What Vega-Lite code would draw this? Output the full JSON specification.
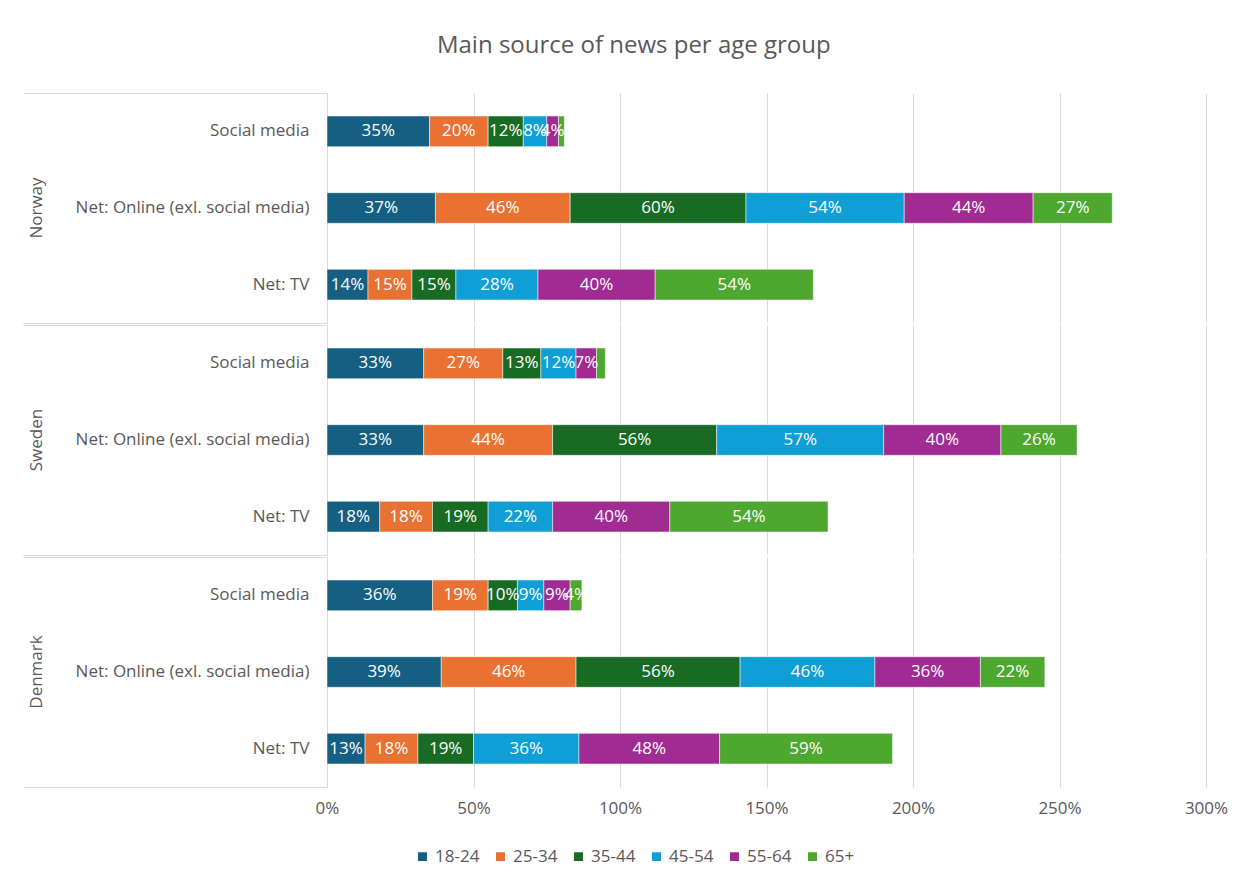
{
 "$schema": "https://vega.github.io/schema/vega-lite/v6.json",
 "background": "white",
 "padding": {"left": 22, "top": 33, "right": 40, "bottom": 10},
 "config": {"font": "Open Sans", "view": {"stroke": null}},
 "title": {"text": "Main source of news per age group", "fontSize": 24, "color": "#595959", "font": "Open Sans", "fontWeight": "normal", "offset": 35, "anchor": "middle", "dx": 9},
 "data": {"values": [
  {"country": "Norway", "source": "Social media", "age": "18-24", "value": 0.35},
  {"country": "Norway", "source": "Social media", "age": "25-34", "value": 0.20},
  {"country": "Norway", "source": "Social media", "age": "35-44", "value": 0.12},
  {"country": "Norway", "source": "Social media", "age": "45-54", "value": 0.08},
  {"country": "Norway", "source": "Social media", "age": "55-64", "value": 0.04},
  {"country": "Norway", "source": "Social media", "age": "65+", "value": 0.02},
  {"country": "Norway", "source": "Net: Online (exl. social media)", "age": "18-24", "value": 0.37},
  {"country": "Norway", "source": "Net: Online (exl. social media)", "age": "25-34", "value": 0.46},
  {"country": "Norway", "source": "Net: Online (exl. social media)", "age": "35-44", "value": 0.60},
  {"country": "Norway", "source": "Net: Online (exl. social media)", "age": "45-54", "value": 0.54},
  {"country": "Norway", "source": "Net: Online (exl. social media)", "age": "55-64", "value": 0.44},
  {"country": "Norway", "source": "Net: Online (exl. social media)", "age": "65+", "value": 0.27},
  {"country": "Norway", "source": "Net: TV", "age": "18-24", "value": 0.14},
  {"country": "Norway", "source": "Net: TV", "age": "25-34", "value": 0.15},
  {"country": "Norway", "source": "Net: TV", "age": "35-44", "value": 0.15},
  {"country": "Norway", "source": "Net: TV", "age": "45-54", "value": 0.28},
  {"country": "Norway", "source": "Net: TV", "age": "55-64", "value": 0.40},
  {"country": "Norway", "source": "Net: TV", "age": "65+", "value": 0.54},
  {"country": "Sweden", "source": "Social media", "age": "18-24", "value": 0.33},
  {"country": "Sweden", "source": "Social media", "age": "25-34", "value": 0.27},
  {"country": "Sweden", "source": "Social media", "age": "35-44", "value": 0.13},
  {"country": "Sweden", "source": "Social media", "age": "45-54", "value": 0.12},
  {"country": "Sweden", "source": "Social media", "age": "55-64", "value": 0.07},
  {"country": "Sweden", "source": "Social media", "age": "65+", "value": 0.03},
  {"country": "Sweden", "source": "Net: Online (exl. social media)", "age": "18-24", "value": 0.33},
  {"country": "Sweden", "source": "Net: Online (exl. social media)", "age": "25-34", "value": 0.44},
  {"country": "Sweden", "source": "Net: Online (exl. social media)", "age": "35-44", "value": 0.56},
  {"country": "Sweden", "source": "Net: Online (exl. social media)", "age": "45-54", "value": 0.57},
  {"country": "Sweden", "source": "Net: Online (exl. social media)", "age": "55-64", "value": 0.40},
  {"country": "Sweden", "source": "Net: Online (exl. social media)", "age": "65+", "value": 0.26},
  {"country": "Sweden", "source": "Net: TV", "age": "18-24", "value": 0.18},
  {"country": "Sweden", "source": "Net: TV", "age": "25-34", "value": 0.18},
  {"country": "Sweden", "source": "Net: TV", "age": "35-44", "value": 0.19},
  {"country": "Sweden", "source": "Net: TV", "age": "45-54", "value": 0.22},
  {"country": "Sweden", "source": "Net: TV", "age": "55-64", "value": 0.40},
  {"country": "Sweden", "source": "Net: TV", "age": "65+", "value": 0.54},
  {"country": "Denmark", "source": "Social media", "age": "18-24", "value": 0.36},
  {"country": "Denmark", "source": "Social media", "age": "25-34", "value": 0.19},
  {"country": "Denmark", "source": "Social media", "age": "35-44", "value": 0.10},
  {"country": "Denmark", "source": "Social media", "age": "45-54", "value": 0.09},
  {"country": "Denmark", "source": "Social media", "age": "55-64", "value": 0.09},
  {"country": "Denmark", "source": "Social media", "age": "65+", "value": 0.04},
  {"country": "Denmark", "source": "Net: Online (exl. social media)", "age": "18-24", "value": 0.39},
  {"country": "Denmark", "source": "Net: Online (exl. social media)", "age": "25-34", "value": 0.46},
  {"country": "Denmark", "source": "Net: Online (exl. social media)", "age": "35-44", "value": 0.56},
  {"country": "Denmark", "source": "Net: Online (exl. social media)", "age": "45-54", "value": 0.46},
  {"country": "Denmark", "source": "Net: Online (exl. social media)", "age": "55-64", "value": 0.36},
  {"country": "Denmark", "source": "Net: Online (exl. social media)", "age": "65+", "value": 0.22},
  {"country": "Denmark", "source": "Net: TV", "age": "18-24", "value": 0.13},
  {"country": "Denmark", "source": "Net: TV", "age": "25-34", "value": 0.18},
  {"country": "Denmark", "source": "Net: TV", "age": "35-44", "value": 0.19},
  {"country": "Denmark", "source": "Net: TV", "age": "45-54", "value": 0.36},
  {"country": "Denmark", "source": "Net: TV", "age": "55-64", "value": 0.48},
  {"country": "Denmark", "source": "Net: TV", "age": "65+", "value": 0.59}
 ]},
 "facet": {"row": {"field": "country", "type": "nominal", "sort": ["Norway", "Sweden", "Denmark"],
   "header": {"title": null, "labelAngle": -90, "labelOrient": "left", "labelFontSize": 17, "labelColor": "#595959", "labelFont": "Open Sans", "labelPadding": -32}}},
 "spacing": 0,
 "resolve": {"scale": {"y": "independent"}},
 "spec": {
  "width": 879, "height": 230,
  "transform": [
   {"stack": "value", "groupby": ["country", "source"], "sort": [{"field": "age", "order": "ascending"}], "as": ["x0", "x1"]},
   {"calculate": "(datum.x0 + datum.x1) / 2", "as": "xmid"}
  ],
  "layer": [
   {"encoding": {
     "y": {"field": "source", "type": "nominal", "sort": ["Social media", "Net: Online (exl. social media)", "Net: TV"],
       "scale": {"paddingInner": 0.6, "paddingOuter": 0.3},
       "axis": {"title": null, "orient": "left", "labelFontSize": 17, "labelColor": "#595959", "labelPadding": 18, "labelLimit": 400, "domainColor": "#d9d9d9", "ticks": false}}},
    "layer": [
     {"mark": {"type": "bar", "stroke": "white", "strokeWidth": 0.5},
      "encoding": {
       "x": {"field": "x0", "type": "quantitative",
         "scale": {"domain": [0, 3]},
         "axis": {"title": null, "format": ".0%", "values": [0, 0.5, 1, 1.5, 2, 2.5, 3], "grid": true, "gridColor": "#d9d9d9", "domain": false, "ticks": false, "labelFlush": false, "labelFontSize": 17, "labelColor": "#595959", "labelPadding": 12}},
       "x2": {"field": "x1"},
       "color": {"field": "age", "type": "nominal",
        "scale": {"domain": ["18-24", "25-34", "35-44", "45-54", "55-64", "65+"], "range": ["#156082", "#E97132", "#196B24", "#0F9ED5", "#A02B93", "#4EA72E"]},
        "legend": {"title": null, "orient": "none", "legendX": 87, "legendY": 755, "direction": "horizontal", "symbolType": "square", "symbolSize": 110, "labelFontSize": 17, "labelColor": "#595959", "columnPadding": 12}}}},
     {"transform": [{"filter": "datum.value >= 0.04"}],
      "mark": {"type": "text", "color": "white", "fontSize": 17},
      "encoding": {
       "x": {"field": "xmid", "type": "quantitative"},
       "text": {"field": "value", "type": "quantitative", "format": ".0%"}}}
    ]},
   {"mark": {"type": "rule", "opacity": 0},
    "encoding": {
     "y": {"field": "country", "type": "nominal", "scale": {"paddingInner": 0, "paddingOuter": 0},
       "axis": {"title": null, "orient": "left", "labels": false, "domain": false, "ticks": true, "tickBand": "extent", "tickSize": 304, "tickColor": "#d9d9d9", "tickWidth": 1}}}}
  ],
  "resolve": {"scale": {"y": "independent"}}
 }
}
